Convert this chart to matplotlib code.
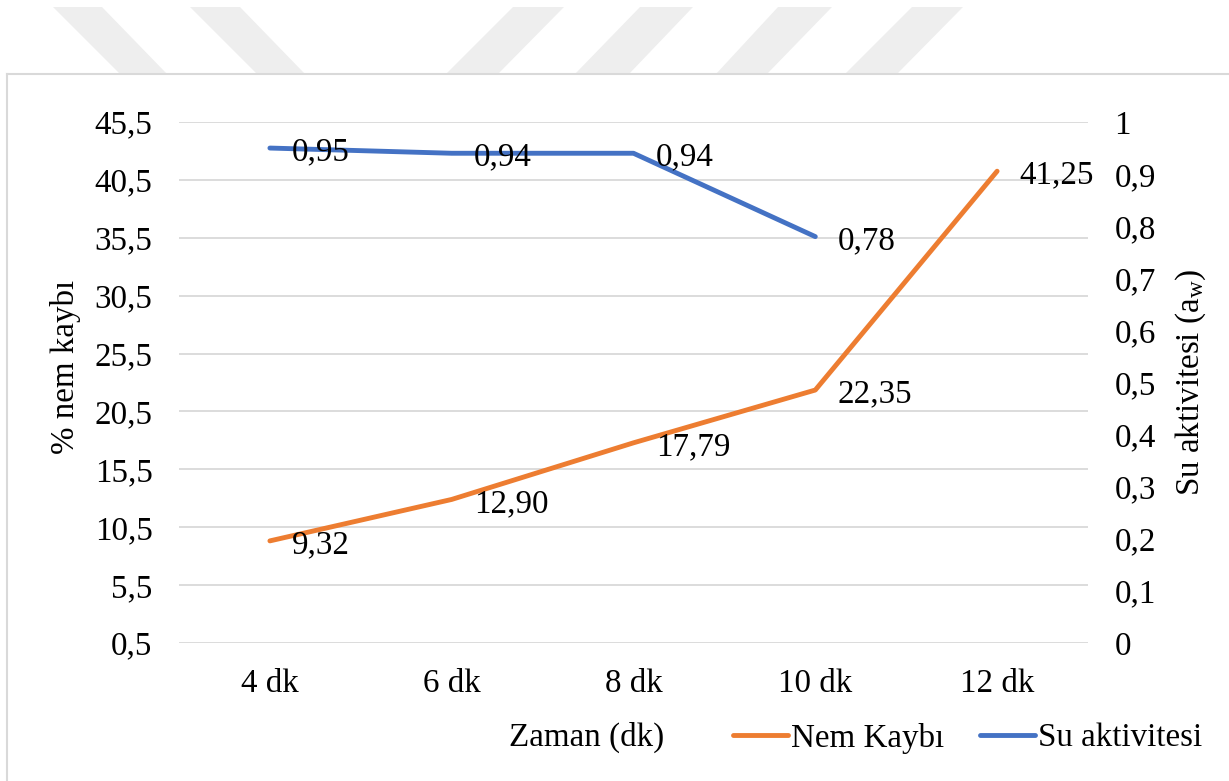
import numpy as np
import matplotlib
matplotlib.use("Agg")
import matplotlib.pyplot as plt
from matplotlib.patches import Polygon
from matplotlib.lines import Line2D

plt.rcParams['font.family'] = ['Liberation Serif', 'DejaVu Serif']
plt.rcParams['mathtext.fontset'] = 'custom'
plt.rcParams['mathtext.rm'] = 'Liberation Serif'
plt.rcParams['mathtext.it'] = 'Liberation Serif:italic'

# veri
kategoriler = ['4 dk', '6 dk', '8 dk', '10 dk', '12 dk']
nem_kaybi = [9.32, 12.90, 17.79, 22.35, 41.25]
su_aktivitesi = [0.95, 0.94, 0.94, 0.78]  # 12 dk icin deger yok
sol_ticks = [0.5, 5.5, 10.5, 15.5, 20.5, 25.5, 30.5, 35.5, 40.5, 45.5]
sag_ticks = [0, 0.1, 0.2, 0.3, 0.4, 0.5, 0.6, 0.7, 0.8, 0.9, 1]

turuncu = '#ED7D31'
mavi = '#4472C4'
fs = 23.8

W, H = 1229, 781
fig = plt.figure(figsize=(W / 100, H / 100), dpi=100)

# arka plandaki filigran seritleri (piksel koordinatlari)
seritler = [
    [(53, 7), (102, 7), (167, 74), (120, 74)],
    [(190, 7), (240, 7), (305, 74), (257, 74)],
    [(513, 7), (564, 7), (498, 74), (446, 74)],
    [(640, 7), (693, 7), (629, 74), (575, 74)],
    [(778, 7), (832, 7), (767, 74), (716, 74)],
    [(912, 7), (963, 7), (897, 74), (845, 74)],
]
for s in seritler:
    pts = [(x / W, 1 - y / H) for x, y in s]
    fig.add_artist(Polygon(pts, closed=True, transform=fig.transFigure,
                           facecolor='#eeeeee', edgecolor='none', zorder=0))

# grafik cercevesi
fig.add_artist(Line2D([7 / W, 7 / W], [0, 1 - 74 / H], transform=fig.transFigure,
                      color='#d9d9d9', lw=1.5))
fig.add_artist(Line2D([7 / W, 1], [1 - 74 / H, 1 - 74 / H], transform=fig.transFigure,
                      color='#d9d9d9', lw=1.5))

ax = fig.add_axes([179 / W, 1 - 643 / H, 909 / W, 521 / H])
ax2 = ax.twinx()

x = np.arange(len(kategoriler))

l1, = ax.plot(x, nem_kaybi, color=turuncu, lw=3.5, solid_capstyle='round',
              solid_joinstyle='round', label='Nem Kaybı', zorder=3)
l2, = ax2.plot(x[:len(su_aktivitesi)], su_aktivitesi, color=mavi, lw=3.5,
               solid_capstyle='round', solid_joinstyle='round', label='Su aktivitesi', zorder=3)

for xi, v in zip(x, nem_kaybi):
    ax.annotate(f'{v:.2f}'.replace('.', ','), (xi, v), xytext=(16, -3),
                textcoords='offset points', ha='left', va='center', fontsize=fs)
for xi, v in zip(x, su_aktivitesi):
    ax2.annotate(f'{v:.2f}'.replace('.', ','), (xi, v), xytext=(16, -3),
                 textcoords='offset points', ha='left', va='center', fontsize=fs)

ax.set_xlim(-0.5, len(kategoriler) - 0.5)
ax.set_ylim(0.5, 45.5)
ax2.set_ylim(0, 1)
ax.set_xticks(x)
ax.set_xticklabels(kategoriler, fontsize=fs)
ax.set_yticks(sol_ticks)
ax.set_yticklabels([f'{t:g}'.replace('.', ',') for t in sol_ticks], fontsize=fs)
ax2.set_yticks(sag_ticks)
ax2.set_yticklabels([f'{t:g}'.replace('.', ',') for t in sag_ticks], fontsize=fs)

ax.grid(axis='y', color='#d9d9d9', lw=1.3)
ax.set_axisbelow(True)
for a in (ax, ax2):
    for sp in a.spines.values():
        sp.set_visible(False)
    a.tick_params(length=0)
ax.tick_params(axis='y', pad=19)
ax.tick_params(axis='x', pad=18)
ax2.tick_params(axis='y', pad=19)

ax.set_ylabel('% nem kaybı', fontsize=fs)
ax.yaxis.set_label_coords(-0.108, 0.53)
ax2.set_ylabel('Su aktivitesi (a$_{\\mathrm{w}}$)', fontsize=fs)
ax2.yaxis.set_label_coords(1.094, 0.5)
ax.set_xlabel('Zaman (dk)', fontsize=fs)
ax.xaxis.set_label_coords(0.448, -0.182)
ax.xaxis.label.set_va('center')

fig.legend(handles=[l1, l2], loc='center left', bbox_to_anchor=(733 / W, 1 - 738 / H),
           ncol=2, frameon=False, fontsize=fs, handlelength=1.65, handletextpad=0.1,
           columnspacing=1.1, borderpad=0, borderaxespad=0)

fig.savefig('out.png', dpi=100)
